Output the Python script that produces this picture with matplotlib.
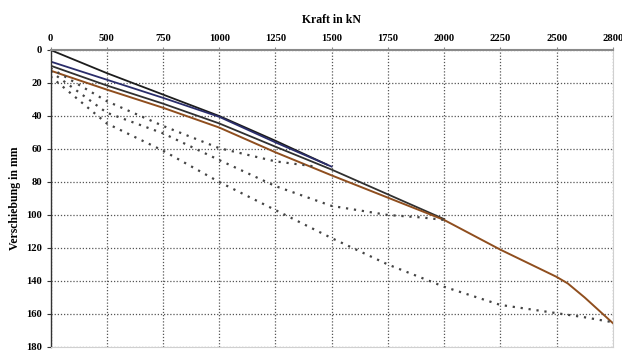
import matplotlib
matplotlib.use("Agg")
import matplotlib.pyplot as plt
import numpy as np

# x axis labels (Excel-style: equally spaced categories)
kraft_ticks = [0, 500, 750, 1000, 1250, 1500, 1750, 2000, 2250, 2500, 2800]
weg_ticks = list(range(0, 181, 20))

# solid curves (Kraft kN, Verschiebung mm)
schwarz1_x = [0, 500, 750, 1000, 1250, 1480]
schwarz1_y = [0, 14, 27, 40, 55, 69.5]

blau_x = [0, 500, 750, 1000, 1250, 1500]
blau_y = [7, 18, 29, 40.5, 56, 70.7]

schwarz2_x = [0, 500, 750, 1000, 1250, 1500, 1750, 2000]
schwarz2_y = [9.5, 21.5, 32.5, 44.5, 58.6, 72.5, 87.5, 102.5]

braun_x = [0, 500, 750, 1000, 1250, 1500, 1750, 2000, 2250, 2500, 2560, 2650, 2800]
braun_y = [12.5, 24, 35, 47, 62, 76, 89.5, 103, 121, 137.5, 141.5, 150, 165.5]

# dotted curves
p1_x = [0, 500, 750, 1000, 1250, 1420]
p1_y = [11, 31, 46, 59.5, 67.5, 70.5]

p2_x = [0, 500, 750, 1000, 1250, 1500, 1750, 1900, 2000]
p2_y = [13, 38, 50.5, 66.7, 82.5, 94.5, 100, 101.5, 103]

p3_x = [0, 500, 750, 1000, 1250, 1500, 1750, 2000, 2250, 2500, 2650, 2800]
p3_y = [16, 44.5, 61, 80, 97, 114, 130, 143.5, 154.5, 159.5, 162, 165]

plt.rcParams['font.family'] = ['Liberation Serif', 'DejaVu Serif']
plt.rcParams['font.weight'] = 'bold'

pos = np.arange(len(kraft_ticks), dtype=float)


def fwd(x):
    return np.interp(x, kraft_ticks, pos)


def inv(p):
    return np.interp(p, pos, kraft_ticks)


fig = plt.figure(figsize=(6.22, 3.54), dpi=100)
ax = fig.add_axes([0.0812, 0.0198, 0.904, 0.839])
# ticks are evenly spaced although the values are not
ax.set_xscale('function', functions=(fwd, inv))

ax.plot(schwarz1_x, schwarz1_y, color='#1c1c1c', lw=1.3)
ax.plot(blau_x, blau_y, color='#2a2d6b', lw=1.3)
ax.plot(schwarz2_x, schwarz2_y, color='#303030', lw=1.3)
ax.plot(braun_x, braun_y, color='#8f4e1e', lw=1.4)

for xs, ys in [(p1_x, p1_y), (p2_x, p2_y), (p3_x, p3_y)]:
    ax.plot(xs, ys, color='#444444', lw=1.6, linestyle=(0, (1, 2.6)))

ax.set_xlim(0, 2800)
ax.set_ylim(180, 0)
ax.set_xticks(kraft_ticks)
ax.set_xticklabels([str(v) for v in kraft_ticks])
ax.set_yticks(weg_ticks)
ax.xaxis.tick_top()
ax.xaxis.set_label_position('top')
ax.tick_params(axis='x', length=2, pad=3, labelsize=7.6, color='#888888')
ax.tick_params(axis='y', length=3, pad=3, labelsize=7.6, color='#333333')

ax.grid(True, color='#555555', lw=0.9, linestyle=(0, (1, 1.5)))

ax.spines['top'].set_color('#8a8a8a')
ax.spines['top'].set_linewidth(1.5)
ax.spines['left'].set_color('#333333')
ax.spines['left'].set_linewidth(1.0)
ax.spines['right'].set_color('#d0d0d0')
ax.spines['bottom'].set_color('#d0d0d0')

ax.set_xlabel('Kraft in kN', fontsize=8.5, fontweight='bold', labelpad=8)
ax.set_ylabel('Verschiebung in mm', fontsize=8.5, fontweight='bold', labelpad=4)

fig.savefig('out.png', dpi=100)
